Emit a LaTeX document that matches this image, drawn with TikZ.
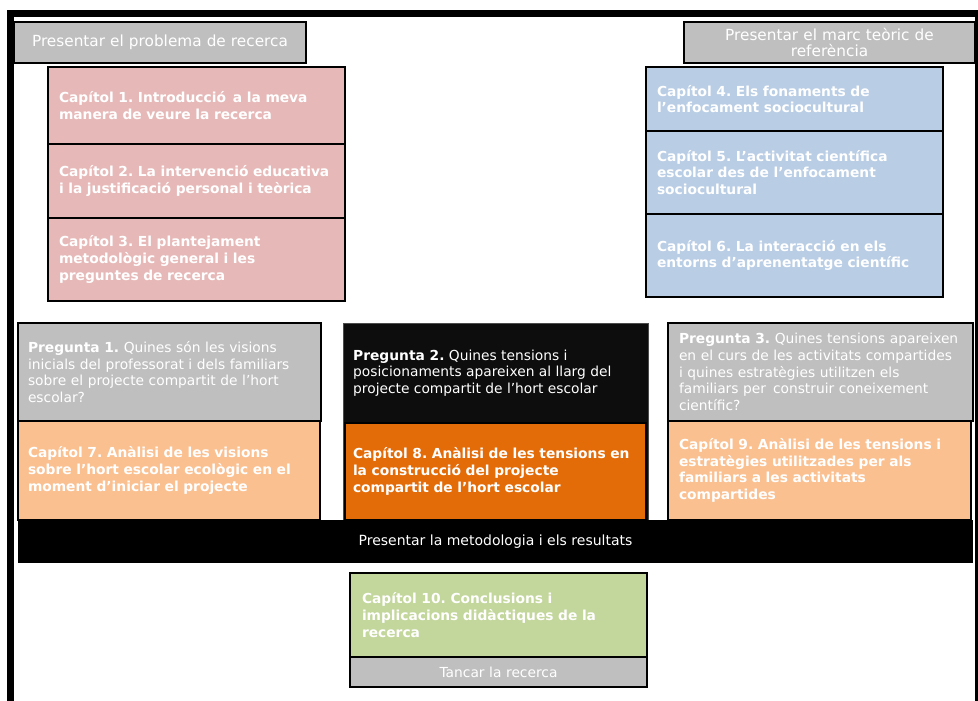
\documentclass[tikz,border=0pt]{standalone}
\usepackage{fontspec}
\setmainfont{DejaVu Sans}
\usetikzlibrary{positioning}
\definecolor{headgray}{HTML}{BFBFBF}
\definecolor{rosepink}{HTML}{E6B9B8}
\definecolor{paleblue}{HTML}{B9CDE5}
\definecolor{paleorange}{HTML}{FAC090}
\definecolor{burntorange}{HTML}{E36C09}
\definecolor{sagegreen}{HTML}{C3D69B}
\definecolor{nearblack}{HTML}{0D0D0D}
\newcommand{\bodyfont}{\fontsize{13.8}{16.7}\selectfont\frenchspacing}
\newcommand{\headfont}{\fontsize{15.3}{16.2}\selectfont}

\begin{document}
\begin{tikzpicture}[x=1pt, y=-1pt,
  box/.style={draw=black, line width=2pt, anchor=north west, inner xsep=11pt, inner ysep=0pt,
    outer sep=0pt, align=left, text=white, font=\bodyfont},
  chap/.style={box, font=\bodyfont\bfseries},
  head/.style={box, fill=headgray, align=center, font=\headfont}]
\useasboundingbox (0,0) rectangle (978,701);
\fill[black] (7,10) rectangle (978,17);
\fill[black] (7,10) rectangle (14,701);
\fill[black] (975,10) rectangle (978,701);
\node[head, minimum width=292pt, minimum height=41pt, text width=270pt] (hprob) at (14,22) {Presentar el problema de recerca};
\node[head, minimum width=291pt, minimum height=41pt, text width=269pt] (hmarc) at (684,22) {Presentar el marc teòric de\\referència};
\node[chap, fill=rosepink, minimum width=297pt, minimum height=77pt, text width=275pt] (cap1) at (48,67) {Capítol 1. Introducció \,a la meva\\manera de veure la recerca};
\node[chap, fill=rosepink, minimum width=297pt, minimum height=74pt, text width=275pt] (cap2) at (48,144) {Capítol 2. La intervenció educativa\\i la justificació personal i teòrica};
\node[chap, fill=rosepink, minimum width=297pt, minimum height=83pt, text width=275pt] (cap3) at (48,218) {Capítol 3. El plantejament\\metodològic general i les\\preguntes de recerca};
\node[chap, fill=paleblue, minimum width=297pt, minimum height=64pt, text width=275pt] (cap4) at (646,67) {Capítol 4. Els fonaments de\\l’enfocament sociocultural};
\node[chap, fill=paleblue, minimum width=297pt, minimum height=83pt, text width=275pt] (cap5) at (646,131) {Capítol 5. L’activitat científica\\escolar des de l’enfocament\\sociocultural};
\node[chap, fill=paleblue, minimum width=297pt, minimum height=83pt, text width=275pt] (cap6) at (646,214) {Capítol 6. La interacció en els\\entorns d’aprenentatge científic};
\node[box, fill=headgray, minimum width=303pt, minimum height=98pt, text width=283pt, inner xsep=10pt] (preg1) at (18,323) {\textbf{Pregunta 1.} Quines són les visions\\inicials del professorat i dels familiars\\sobre el projecte compartit de l’hort\\escolar?};
\node[chap, fill=paleorange, minimum width=302pt, minimum height=99pt, text width=282pt, inner xsep=10pt] (cap7) at (18,421) {Capítol 7. Anàlisi de les visions\\sobre l’hort escolar ecològic en el\\moment d’iniciar el projecte};
\node[box, draw=black!70, line width=1pt, fill=nearblack, minimum width=305pt, minimum height=197pt] (preg2) at (343,323) {};
\node[anchor=west, align=left, text=white, font=\bodyfont, inner sep=0pt] (preg2txt) at (353,373) {\textbf{Pregunta 2.} Quines tensions i\\posicionaments apareixen al llarg del\\projecte compartit de l’hort escolar};
\node[chap, fill=burntorange, minimum width=301pt, minimum height=97pt, text width=285pt, inner xsep=8pt] (cap8) at (345,423) {Capítol 8. Anàlisi de les tensions en\\la construcció del projecte\\compartit de l’hort escolar};
\node[box, fill=headgray, minimum width=305pt, minimum height=98pt, text width=283pt] (preg3) at (668,323) {\textbf{Pregunta 3.} Quines tensions apareixen\\en el curs de les activitats compartides\\i quines estratègies utilitzen els\\familiars per \,construir coneixement\\científic?};
\node[chap, fill=paleorange, minimum width=303pt, minimum height=99pt, text width=281pt] (cap9) at (668,421) {Capítol 9. Anàlisi de les tensions i\\estratègies utilitzades per als\\familiars a les activitats\\compartides};
\node[box, draw=none, fill=black, align=center, font=\fontsize{14}{16}\selectfont, minimum width=955pt, minimum height=43pt] (metode) at (18,520) {Presentar la metodologia i els resultats};
\node[chap, fill=sagegreen, minimum width=297pt, minimum height=84pt, text width=273pt, inner xsep=12pt] (cap10) at (350,573) {Capítol 10. Conclusions i\\implicacions didàctiques de la\\recerca};
\node[box, fill=headgray, align=center, minimum width=297pt, minimum height=30pt, text width=275pt] (tancar) at (350,657) {Tancar la recerca};
\end{tikzpicture}
\end{document}
